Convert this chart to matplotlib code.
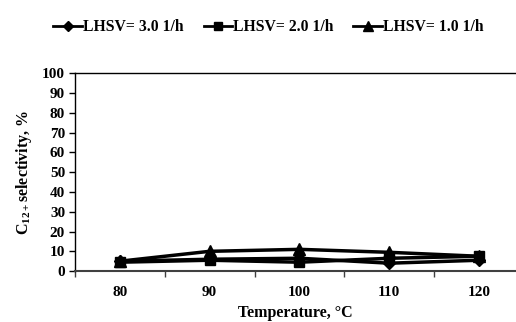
import matplotlib
matplotlib.use("Agg")
import matplotlib.pyplot as plt
from matplotlib.ticker import FixedLocator
from matplotlib.lines import Line2D

temps = ["80", "90", "100", "110", "120"]
lhsv_3 = [5.0, 6.0, 6.5, 4.0, 5.5]
lhsv_2 = [4.5, 5.5, 4.5, 6.5, 7.5]
lhsv_1 = [5.0, 10.0, 11.0, 9.5, 7.5]
labels = ["LHSV= 3.0 1/h", "LHSV= 2.0 1/h", "LHSV= 1.0 1/h"]

plt.rcParams.update({
    "font.family": "Liberation Serif",
    "font.weight": "bold",
    "mathtext.fontset": "custom",
    "mathtext.rm": "Liberation Serif:bold",
    "mathtext.bf": "Liberation Serif:bold",
    "mathtext.it": "Liberation Serif:bold:italic",
})

fig = plt.figure(figsize=(5.16, 3.22), dpi=100)
ax = fig.add_axes([0.145, 0.158, 0.855, 0.615])

x = range(len(temps))
ax.plot(x, lhsv_3, "-D", color="black", lw=2.5, ms=6)
ax.plot(x, lhsv_2, "-s", color="black", lw=2.5, ms=7)
ax.plot(x, lhsv_1, "-^", color="black", lw=2.5, ms=8)

ax.set_ylim(0, 100)
ax.set_xlim(-0.5, 4.41)
ax.set_yticks(range(0, 101, 10))
ax.set_xticks(list(x))
ax.set_xticklabels(temps)
ax.xaxis.set_minor_locator(FixedLocator([-0.5, 0.5, 1.5, 2.5, 3.5]))
ax.tick_params(axis="x", which="major", length=0, labelsize=11, pad=11)
ax.tick_params(axis="x", which="minor", length=4, width=1, color="#404040", direction="out")
ax.tick_params(axis="y", length=4, width=1, labelsize=11, direction="out", pad=3)

ax.spines["right"].set_visible(False)
ax.spines["top"].set_linewidth(1)
ax.spines["left"].set_linewidth(1)
ax.spines["bottom"].set_linewidth(1.5)
ax.spines["bottom"].set_color("#404040")

ax.set_xlabel("Temperature, °C", fontsize=11.5, fontweight="bold", labelpad=4)
ax.set_ylabel(r"$\mathregular{C_{12+}}$selectivity, %", fontsize=11.5, fontweight="bold", labelpad=6)

handles = [
    Line2D([], [], color="black", lw=2, marker="D", ms=5),
    Line2D([], [], color="black", lw=2, marker="s", ms=6),
    Line2D([], [], color="black", lw=2, marker="^", ms=7),
]
fig.legend(handles, labels, loc="center", bbox_to_anchor=(0.52, 0.915), ncol=3, frameon=False,
           prop={"size": 11.3, "weight": "bold"}, handlelength=1.8, handletextpad=0.05,
           columnspacing=1.3)

fig.savefig("out.png", dpi=100, facecolor="white")
